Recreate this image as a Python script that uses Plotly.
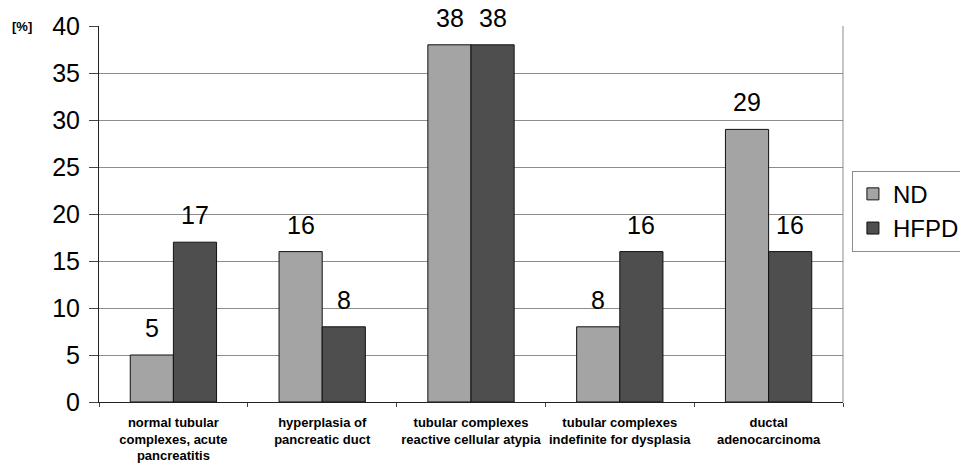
import plotly.graph_objects as go

categories = [
    "normal tubular<br>complexes, acute<br>pancreatitis",
    "hyperplasia of<br>pancreatic duct",
    "tubular complexes<br>reactive cellular atypia",
    "tubular complexes<br>indefinite for dysplasia",
    "ductal<br>adenocarcinoma",
]
nd_values = [5, 16, 38, 8, 29]
hfpd_values = [17, 8, 38, 16, 16]
y_ticks = [0, 5, 10, 15, 20, 25, 30, 35, 40]

FONT = "Arial, Liberation Sans, sans-serif"

fig = go.Figure()
fig.add_trace(go.Bar(name="ND", x=categories, y=nd_values,
                     marker=dict(color="#a4a4a4", line=dict(color="#111111", width=1))))
fig.add_trace(go.Bar(name="HFPD", x=categories, y=hfpd_values,
                     marker=dict(color="#4e4e4e", line=dict(color="#111111", width=1))))

# value labels above bars
half = 21.5
for cat, v in zip(categories, nd_values):
    fig.add_annotation(x=cat, y=v, text=str(v), showarrow=False, xshift=-half,
                       yanchor="bottom", yshift=11, font=dict(size=25, color="black", family=FONT))
for cat, v in zip(categories, hfpd_values):
    fig.add_annotation(x=cat, y=v, text=str(v), showarrow=False, xshift=half,
                       yanchor="bottom", yshift=11, font=dict(size=25, color="black", family=FONT))

fig.add_annotation(xref="paper", yref="paper", x=-0.1035, y=1.0, xanchor="center", yanchor="middle",
                   text="<b>[%]</b>", showarrow=False, font=dict(size=13, color="black", family=FONT))

# right frame line
fig.add_shape(type="line", xref="paper", yref="paper", x0=1, x1=1, y0=0, y1=1,
              line=dict(color="#8c8c8c", width=1))

fig.update_layout(
    width=960, height=465,
    margin=dict(l=99, r=117, t=26, b=63, autoexpand=False),
    paper_bgcolor="white", plot_bgcolor="white",
    barmode="group", bargap=0.42, bargroupgap=0,
    font=dict(family=FONT, color="black"),
    legend=dict(x=1.012, y=0.615, xanchor="left", yanchor="top",
                bordercolor="#8c8c8c", borderwidth=1, font=dict(size=24, color="black"),
                bgcolor="white", tracegroupgap=0, itemwidth=30),
    xaxis=dict(showline=True, linecolor="#222222", linewidth=1, ticks="outside",
               tickson="boundaries", ticklen=4, tickcolor="#444444", tickangle=0,
               automargin=False, ticklabelstandoff=8,
               tickfont=dict(size=13, color="black", family=FONT),
               showgrid=False),
    yaxis=dict(range=[0, 40], tickvals=y_ticks, showline=True, linecolor="#222222", linewidth=1,
               ticks="outside", ticklen=9, tickcolor="#444444", automargin=False,
               tickfont=dict(size=25, color="black"), showgrid=True,
               gridcolor="#8c8c8c", gridwidth=1, zeroline=False, ticklabelstandoff=4),
)
# bold category labels
fig.update_xaxes(ticktext=["<b>" + c + "</b>" for c in categories], tickvals=categories)

fig.write_html("out.html", config={"displayModeBar": False},
               post_script="document.body.style.margin='0';document.body.style.overflow='hidden';")
